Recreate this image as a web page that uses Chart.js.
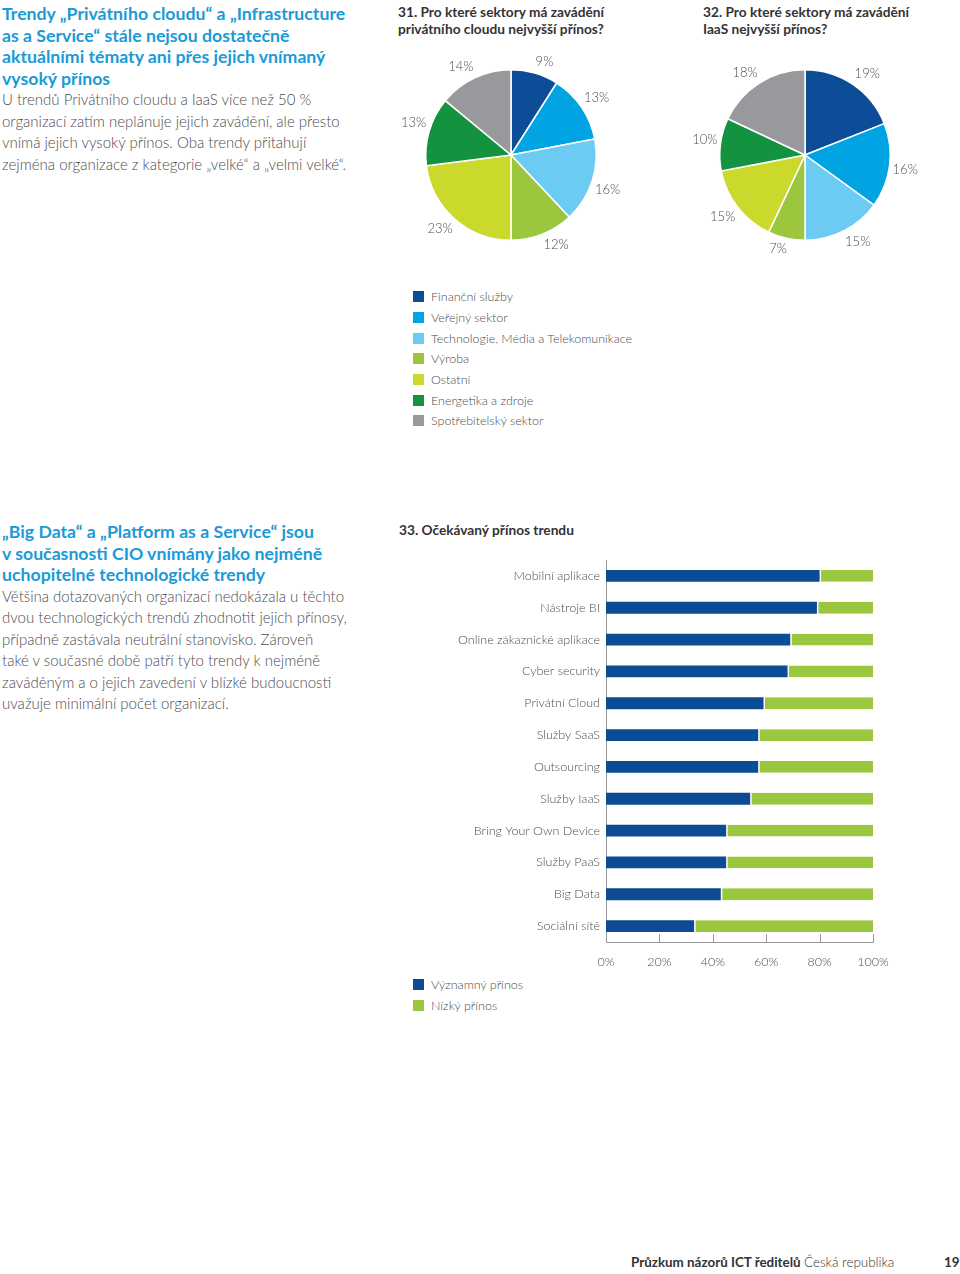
<!DOCTYPE html>
<html lang="cs">
<head>
<meta charset="utf-8">
<script src="https://cdn.jsdelivr.net/npm/chart.js@4.4.1/dist/chart.umd.min.js"></script>
<style>
  html, body { margin: 0; padding: 0; background: #fff; }
  body { width: 960px; height: 1274px; position: relative; overflow: hidden; font-family: Lato, 'Open Sans', sans-serif; color: #4d4d4f; }
  .abs { position: absolute; }
  .text { white-space: nowrap; }
  .text .head { color: #1a9ad6; font-weight: 700; font-size: 17.7px; line-height: 21.5px; }
  .text .body { font-size: 15px; line-height: 21.5px; font-weight: 300; }
  .ctitle { font-size: 13.7px; font-weight: 700; line-height: 17px; color: #333; white-space: nowrap; }
  .legend { font-size: 12.5px; font-weight: 300; color: #4d4d4f; }
  .legend div { height: 20.7px; display: flex; align-items: center; white-space: nowrap; }
  .legend .sw { width: 11px; height: 11px; margin-right: 7px; display: inline-block; }
  .footer { font-size: 13.4px; color: #333; white-space: nowrap; }
</style>
</head>
<body>

<div class="abs text" style="left:2px; top:3px;">
  <div class="head">Trendy „Privátního cloudu“ a „Infrastructure<br>as a Service“ stále nejsou dostatečně<br>aktuálními tématy ani přes jejich vnímaný<br>vysoký přínos</div>
  <div class="body">U trendů Privátního cloudu a IaaS více než 50 %<br>organizací zatím neplánuje jejich zavádění, ale přesto<br>vnímá jejich vysoký přínos. Oba trendy přitahují<br>zejména organizace z kategorie „velké“ a „velmi velké“.</div>
</div>

<div class="abs ctitle" style="left:398px; top:3px;">31. Pro které sektory má zavádění<br>privátního cloudu nejvyšší přínos?</div>
<div class="abs ctitle" style="left:703px; top:3px;">32. Pro které sektory má zavádění<br>IaaS nejvyšší přínos?</div>

<canvas id="pie1" class="abs" width="260" height="230" style="left:381px; top:40px;"></canvas>
<canvas id="pie2" class="abs" width="260" height="230" style="left:675px; top:40px;"></canvas>

<div id="sectorLegend" class="abs legend" style="left:413px; top:286.5px;"></div>

<div class="abs text" style="left:2px; top:521px;">
  <div class="head">„Big Data“ a „Platform as a Service“ jsou<br>v současnosti CIO vnímány jako nejméně<br>uchopitelné technologické trendy</div>
  <div class="body">Většina dotazovaných organizací nedokázala u těchto<br>dvou technologických trendů zhodnotit jejich přínosy,<br>případně zastávala neutrální stanovisko. Zároveň<br>také v současné době patří tyto trendy k nejméně<br>zaváděným a o jejich zavedení v blízké budoucnosti<br>uvažuje minimální počet organizací.</div>
</div>

<div class="abs ctitle" style="left:399px; top:521px;">33. Očekávaný přínos trendu</div>
<canvas id="bar" class="abs" width="540" height="427" style="left:390px; top:545px;"></canvas>
<div id="benefitLegend" class="abs legend" style="left:413px; top:974.5px;"></div>

<div class="abs footer" style="left:631px; top:1254px;"><b>Průzkum názorů ICT ředitelů</b> <span style="font-weight:300">Česká republika</span></div>
<div class="abs footer" style="left:944px; top:1254px;"><b>19</b></div>

<script>
// data
const sectors = ['Finanční služby', 'Veřejný sektor', 'Technologie, Média a Telekomunikace', 'Výroba', 'Ostatní', 'Energetika a zdroje', 'Spotřebitelský sektor'];
const sectorColors = ['#0d4c96', '#00a4e2', '#6ccbf2', '#9bc63e', '#cad92c', '#13923f', '#98999c'];
const privateCloudShare = [9, 13, 16, 12, 23, 13, 14];
const iaasShare = [19, 16, 15, 7, 15, 10, 18];

const trends = ['Mobilní aplikace', 'Nástroje BI', 'Online zákaznické aplikace', 'Cyber security', 'Privátní Cloud', 'Služby SaaS', 'Outsourcing', 'Služby IaaS', 'Bring Your Own Device', 'Služby PaaS', 'Big Data', 'Sociální sítě'];
const highBenefit = [80, 79, 69, 68, 59, 57, 57, 54, 45, 45, 43, 33];
const lowBenefit = [20, 21, 31, 32, 41, 43, 43, 46, 55, 55, 57, 67];
const benefitNames = ['Významný přínos', 'Nízký přínos'];
const benefitColors = ['#0d4b94', '#9bc73f'];
const percentTicks = ['0%', '20%', '40%', '60%', '80%', '100%'];

const fontFamily = "Lato, 'Open Sans', sans-serif";
const labelFont = { family: fontFamily, size: 12.5, weight: '300' };
const textColor = '#4d4d4f';

function fillLegend(id, names, colors) {
  const box = document.getElementById(id);
  names.forEach((name, i) => {
    const row = document.createElement('div');
    row.innerHTML = `<span class="sw" style="background:${colors[i]}"></span>${name}`;
    box.appendChild(row);
  });
}
fillLegend('sectorLegend', sectors, sectorColors);
fillLegend('benefitLegend', benefitNames, benefitColors);

// percentage labels just outside the slices (box pushed away from the edge)
const pieLabels = {
  id: 'pieLabels',
  afterDatasetsDraw(chart) {
    const ctx = chart.ctx;
    const meta = chart.getDatasetMeta(0);
    const values = chart.data.datasets[0].data;
    ctx.save();
    ctx.font = `300 13px ${fontFamily}`;
    ctx.fillStyle = textColor;
    ctx.textAlign = 'center';
    ctx.textBaseline = 'middle';
    meta.data.forEach((arc, i) => {
      const p = arc.getProps(['x', 'y', 'startAngle', 'endAngle', 'outerRadius'], true);
      const mid = (p.startAngle + p.endAngle) / 2;
      const dx = Math.cos(mid), dy = Math.sin(mid);
      const txt = values[i] + '%';
      const halfW = ctx.measureText(txt).width / 2;
      const clamp = (v) => Math.max(-1, Math.min(1, v * 4));
      const r = p.outerRadius + 3;
      ctx.fillText(txt, p.x + dx * r + halfW * clamp(dx), p.y + dy * r + 8 * clamp(dy));
    });
    ctx.restore();
  }
};

function makePie(id, values) {
  new Chart(document.getElementById(id), {
    type: 'pie',
    data: {
      labels: sectors,
      datasets: [{
        data: values,
        backgroundColor: sectorColors,
        borderColor: '#fff',
        borderWidth: 1.5,
        hoverOffset: 0
      }]
    },
    options: {
      responsive: false,
      animation: false,
      layout: { padding: { top: 29, bottom: 29, left: 44, right: 44 } },
      plugins: { legend: { display: false }, tooltip: { enabled: false } }
    },
    plugins: [pieLabels]
  });
}
makePie('pie1', privateCloudShare);
makePie('pie2', iaasShare);

// small tick marks standing on the x axis line
const axisTicks = {
  id: 'axisTicks',
  afterDraw(chart) {
    const ctx = chart.ctx;
    const x = chart.scales.x;
    const bottom = chart.chartArea.bottom;
    ctx.save();
    ctx.strokeStyle = '#9a9a9a';
    ctx.lineWidth = 1;
    x.ticks.forEach((t) => {
      if (t.value === 0) return;
      const px = Math.round(x.getPixelForValue(t.value)) + 0.5;
      ctx.beginPath();
      ctx.moveTo(px, bottom - 8);
      ctx.lineTo(px, bottom);
      ctx.stroke();
    });
    ctx.restore();
  }
};

new Chart(document.getElementById('bar'), {
  type: 'bar',
  data: {
    labels: trends,
    datasets: [
      { label: benefitNames[0], data: highBenefit, backgroundColor: benefitColors[0], borderWidth: 0 },
      { label: benefitNames[1], data: lowBenefit, backgroundColor: benefitColors[1], borderColor: '#fff',
        borderWidth: { left: 1.5, top: 0, right: 0, bottom: 0 }, borderSkipped: false }
    ]
  },
  options: {
    indexAxis: 'y',
    responsive: false,
    animation: false,
    datasets: { bar: { categoryPercentage: 1, barPercentage: 0.37 } },
    layout: { padding: { top: 15, right: 57, left: 0, bottom: 0 } },
    scales: {
      x: {
        stacked: true,
        min: 0,
        max: 100,
        ticks: { stepSize: 20, padding: 12, color: textColor, font: labelFont, maxRotation: 0,
          callback: (v, i) => percentTicks[i] },
        grid: { display: false, drawTicks: false },
        border: { display: true, color: '#9a9a9a', width: 1 },
        afterFit: (s) => { s.height = 30; }
      },
      y: {
        stacked: true,
        ticks: { padding: 6, color: textColor, font: labelFont },
        grid: { display: false, drawTicks: false },
        border: { display: true, color: '#9a9a9a', width: 1 },
        afterFit: (s) => { s.width = 216; }
      }
    },
    plugins: { legend: { display: false }, tooltip: { enabled: false } }
  },
  plugins: [axisTicks]
});
</script>
</body>
</html>
